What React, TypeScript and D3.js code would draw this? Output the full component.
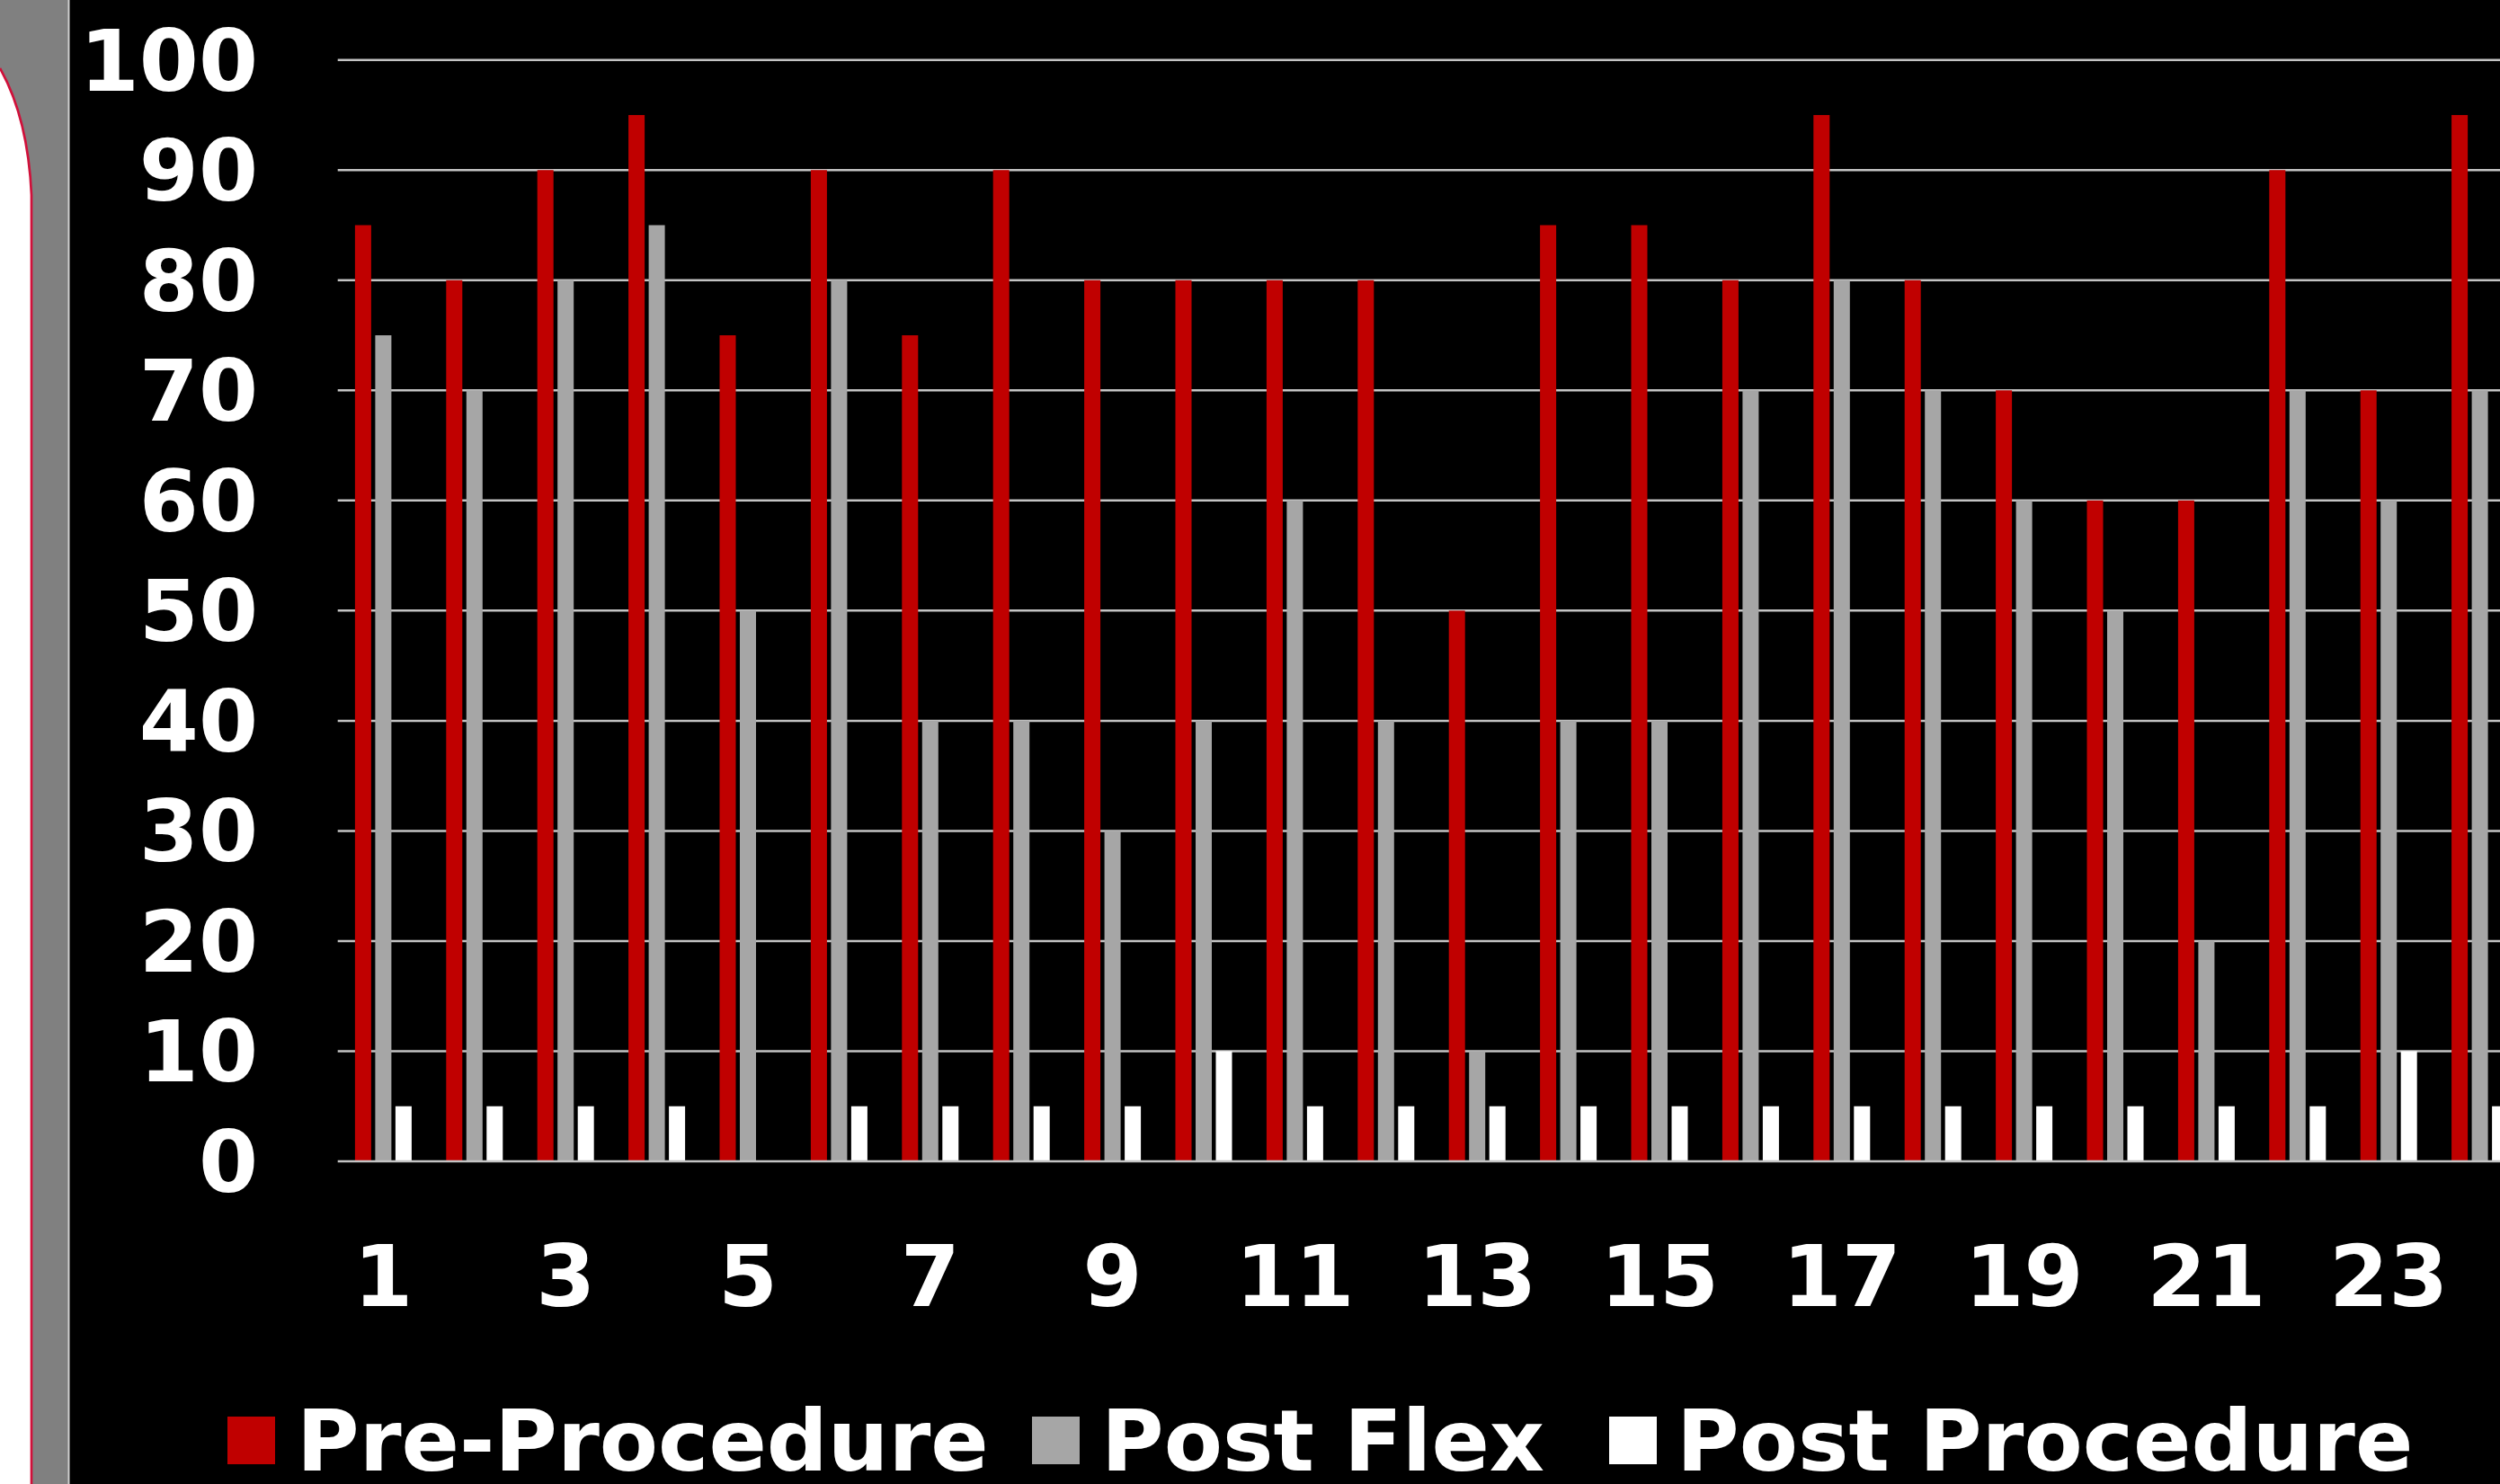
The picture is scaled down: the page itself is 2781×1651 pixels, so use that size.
import React from "react";
import * as d3 from "d3";

const categories = Array.from({ length: 24 }, (_, i) => String(i + 1));
const seriesNames = ["Pre-Procedure", "Post Flex", "Post Procedure"];
const preProcedure = [85, 80, 90, 95, 75, 90, 75, 90, 80, 80, 80, 80, 50, 85, 85, 80, 95, 80, 70, 60, 60, 90, 70, 95];
const postFlex = [75, 70, 80, 85, 50, 80, 40, 40, 30, 40, 60, 40, 10, 40, 40, 70, 80, 70, 60, 50, 20, 70, 60, 70];
const postProcedure = [5, 5, 5, 5, 0, 5, 5, 5, 5, 10, 5, 5, 5, 5, 5, 5, 5, 5, 5, 5, 5, 5, 10, 5];
const yTicks = [0, 10, 20, 30, 40, 50, 60, 70, 80, 90, 100];
const colors = ["#C00000", "#A6A6A6", "#FFFFFF"];

const W = 2781;
const H = 1651;
const FONT = "'DejaVu Sans', Verdana, sans-serif";

export default function App() {
  const plotLeft = 375.7;
  const step = 101.4;
  const x0 = d3
    .scaleBand<string>()
    .domain(categories)
    .range([plotLeft, plotLeft + step * categories.length])
    .paddingInner(0.3787)
    .paddingOuter(0.1893);
  const x1 = d3
    .scaleBand<string>()
    .domain(seriesNames)
    .range([0, x0.bandwidth()])
    .paddingInner(0.2)
    .paddingOuter(0);
  const y = d3.scaleLinear().domain([0, 100]).range([1292, 66.7]);

  const seriesValues = [preProcedure, postFlex, postProcedure];

  const legendPos = [
    { sq: 253, tx: 330 },
    { sq: 1148, tx: 1225 },
    { sq: 1790, tx: 1865 },
  ];

  return (
    <svg
      width={W}
      height={H}
      style={{ position: "absolute", left: 0, top: 0, display: "block" }}
      xmlns="http://www.w3.org/2000/svg"
    >
      <rect x={0} y={0} width={W} height={H} fill="#000000" />
      <rect x={0} y={0} width={77} height={H} fill="#808080" />
      <line x1={76.5} x2={76.5} y1={0} y2={H} stroke="#CFCFCF" strokeWidth={2} />
      <path d="M0,76 C18,108 32,150 35,217 L35,1651 L0,1651 Z" fill="#FFFFFF" />
      <path d="M0,76 C18,108 32,150 35,217 L35,1651" fill="none" stroke="#D0103A" strokeWidth={2.7} />

      {yTicks.filter((t) => t > 0).map((t) => (
        <line key={"g" + t} x1={plotLeft} x2={W} y1={y(t)} y2={y(t)} stroke="#C4C4C4" strokeWidth={2.5} />
      ))}

      {categories.map((c, i) => (
        <g key={"c" + c} transform={`translate(${x0(c)},0)`}>
          {seriesNames.map((s, si) => {
            const v = seriesValues[si][i];
            if (!v) return null;
            return (
              <rect
                key={s}
                x={x1(s)}
                y={y(v)}
                width={x1.bandwidth()}
                height={y(0) - y(v)}
                fill={colors[si]}
              />
            );
          })}
        </g>
      ))}

      <line x1={plotLeft} x2={W} y1={y(0)} y2={y(0)} stroke="#C4C4C4" strokeWidth={2.5} />

      {yTicks.map((t) => (
        <text
          key={"yl" + t}
          x={287}
          y={y(t) + 34}
          textAnchor="end"
          fill="#FFFFFF"
          fontFamily={FONT}
          fontWeight="bold"
          fontSize={95}
        >
          {t}
        </text>
      ))}

      {categories.map((c, i) =>
        i % 2 === 0 ? (
          <text
            key={"xl" + c}
            x={(x0(c) as number) + x0.bandwidth() / 2}
            y={1453}
            textAnchor="middle"
            fill="#FFFFFF"
            fontFamily={FONT}
            fontWeight="bold"
            fontSize={95}
          >
            {c}
          </text>
        ) : null
      )}

      {seriesNames.map((s, si) => (
        <g key={"lg" + s}>
          <rect x={legendPos[si].sq} y={1576} width={53} height={53} fill={colors[si]} />
          <text
            x={legendPos[si].tx}
            y={1636}
            fill="#FFFFFF"
            fontFamily={FONT}
            fontWeight="bold"
            fontSize={95}
          >
            {s}
          </text>
        </g>
      ))}
    </svg>
  );
}
